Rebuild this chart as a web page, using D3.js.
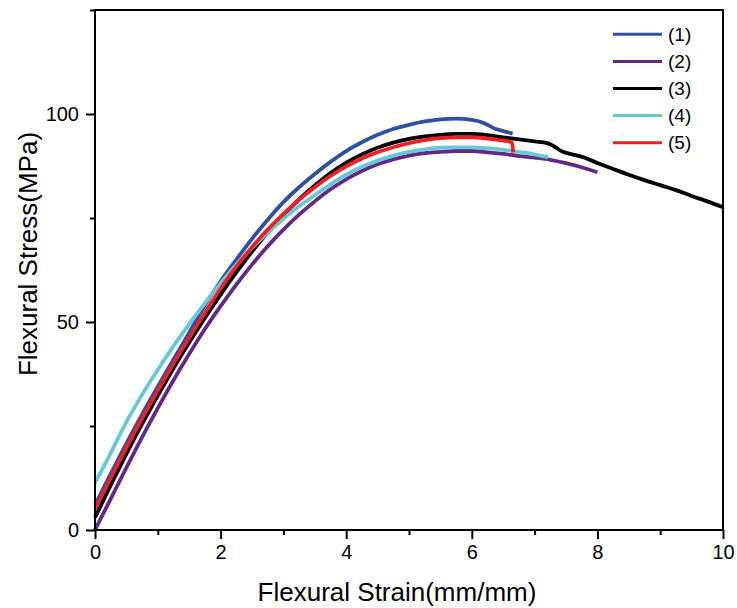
<!DOCTYPE html>
<html>
<head>
<meta charset="utf-8">
<script src="https://cdn.jsdelivr.net/npm/d3@7/dist/d3.min.js"></script>
<style>
  html, body { margin: 0; padding: 0; background: #fff; }
  svg { display: block; }
  text { font-family: "Liberation Sans", Arial, sans-serif; fill: #000; }
</style>
</head>
<body>
<svg id="chart" width="737" height="608"></svg>
<script>
// ---------- data ----------
const seriesNames = ["(1)", "(2)", "(3)", "(4)", "(5)"];
const seriesColors = ["#2f4fa3", "#612a87", "#000000", "#68c8d4", "#ee1f25"];

const strain1 = [0, 0.25, 0.5, 0.75, 1, 1.25, 1.5, 1.75, 2, 2.25, 2.5, 2.75, 3, 3.25, 3.5, 3.75, 4, 4.25, 4.5, 4.75, 5, 5.25, 5.5, 5.75, 6, 6.2, 6.35, 6.5, 6.65];
const stress1 = [6, 13.5, 20.8, 27.8, 34.5, 41, 47.4, 54, 59.8, 65, 70, 74.6, 78.8, 82.4, 85.6, 88.5, 91.1, 93.2, 95, 96.4, 97.4, 98.2, 98.7, 98.9, 98.6, 97.8, 96.6, 95.9, 95.3];

const strain2 = [0, 0.25, 0.5, 0.75, 1, 1.25, 1.5, 1.75, 2, 2.25, 2.5, 2.75, 3, 3.25, 3.5, 3.75, 4, 4.25, 4.5, 4.75, 5, 5.25, 5.5, 5.75, 6, 6.25, 6.5, 6.75, 7, 7.25, 7.5, 7.75, 8];
const stress2 = [0, 7.5, 15, 22.3, 29.3, 36, 42.3, 48.3, 53.8, 59, 63.8, 68.2, 72.2, 75.8, 79, 81.9, 84.3, 86.3, 87.9, 89.1, 90, 90.6, 90.9, 91.1, 91.1, 90.8, 90.4, 89.9, 89.5, 89, 88.2, 87.2, 86];

const strain3 = [0, 0.25, 0.5, 0.75, 1, 1.25, 1.5, 1.75, 2, 2.25, 2.5, 2.75, 3, 3.25, 3.5, 3.75, 4, 4.25, 4.5, 4.75, 5, 5.25, 5.5, 5.75, 6, 6.25, 6.5, 6.75, 7, 7.2, 7.3, 7.45, 7.6, 7.8, 8, 8.25, 8.5, 8.75, 9, 9.25, 9.5, 9.75, 10];
const stress3 = [3, 10.8, 18.3, 25.5, 32.3, 38.9, 45.1, 51, 56.6, 61.9, 66.9, 71.5, 75.7, 79.5, 82.8, 85.8, 88.3, 90.3, 91.9, 93.1, 94, 94.6, 95, 95.2, 95.2, 94.9, 94.4, 93.9, 93.4, 93, 92.3, 90.9, 90.3, 89.5, 88.2, 86.8, 85.4, 84.1, 82.9, 81.7, 80.3, 79, 77.6];

const strain4 = [0, 0.25, 0.5, 0.75, 1, 1.25, 1.5, 1.75, 2, 2.25, 2.5, 2.75, 3, 3.25, 3.5, 3.75, 4, 4.25, 4.5, 4.75, 5, 5.25, 5.5, 5.75, 6, 6.25, 6.5, 6.75, 7, 7.22];
const stress4 = [11.3, 18.5, 26, 32.5, 38.5, 44.2, 49.5, 54.5, 59.3, 63.8, 67.8, 71.4, 74.8, 77.8, 80.5, 83.1, 85.4, 87.3, 88.8, 90, 90.9, 91.5, 91.9, 92, 92, 91.8, 91.4, 90.9, 90.3, 89.6];

const strain5 = [0, 0.25, 0.5, 0.75, 1, 1.25, 1.5, 1.75, 2, 2.25, 2.5, 2.75, 3, 3.25, 3.5, 3.75, 4, 4.25, 4.5, 4.75, 5, 5.25, 5.5, 5.75, 6, 6.25, 6.5, 6.64, 6.66];
const stress5 = [5, 12.5, 19.8, 26.8, 33.5, 40, 46.2, 52.2, 58, 63.3, 68, 72.2, 76, 79.4, 82.4, 85.1, 87.4, 89.3, 90.8, 92, 93, 93.7, 94.2, 94.4, 94.4, 94.1, 93.6, 93.2, 90.8];

const xTickValues = [0, 2, 4, 6, 8, 10];
const xMinorTicks = [1, 3, 5, 7, 9];
const yTickValues = [0, 50, 100];
const yMinorTicks = [25, 75, 125];

const xTitle = "Flexural Strain(mm/mm)";
const yTitle = "Flexural Stress(MPa)";

// ---------- layout ----------
const svg = d3.select("#chart");
const plotLeft = 95, plotRight = 723, plotTop = 10, plotBottom = 530;

const x = d3.scaleLinear().domain([0, 10]).range([plotLeft, plotRight]);
const y = d3.scaleLinear().domain([0, 125]).range([plotBottom, plotTop]);

const strains = [strain1, strain2, strain3, strain4, strain5];
const stresses = [stress1, stress2, stress3, stress4, stress5];
const series = seriesNames.map((name, i) => ({
  name, color: seriesColors[i],
  values: strains[i].map((s, j) => ({ x: s, y: stresses[i][j] }))
}));

// curves
const line = d3.line().x(d => x(d.x)).y(d => y(d.y)).curve(d3.curveMonotoneX);
svg.append("g").selectAll("path").data(series).join("path")
  .attr("d", d => line(d.values))
  .attr("fill", "none")
  .attr("stroke", d => d.color)
  .attr("stroke-width", 3.8)
  .attr("stroke-linejoin", "round")
  .attr("stroke-linecap", "butt");

// axes
const fontSize = 20;
const xAxis = d3.axisBottom(x).tickValues(xTickValues).tickSize(9).tickPadding(6).tickFormat(d3.format("d"));
const gx = svg.append("g").attr("transform", `translate(0,${plotBottom})`).call(xAxis);
const xMinor = d3.axisBottom(x).tickValues(xMinorTicks).tickSize(5).tickFormat("");
const gxm = svg.append("g").attr("transform", `translate(0,${plotBottom})`).call(xMinor);

const yAxis = d3.axisLeft(y).tickValues(yTickValues).tickSize(9).tickPadding(7).tickFormat(d3.format("d"));
const gy = svg.append("g").attr("transform", `translate(${plotLeft},0)`).call(yAxis);
const yMinor = d3.axisLeft(y).tickValues(yMinorTicks).tickSize(5).tickFormat("");
const gym = svg.append("g").attr("transform", `translate(${plotLeft},0)`).call(yMinor);

[gx, gxm, gy, gym].forEach(g => {
  g.select(".domain").remove();
  g.selectAll(".tick line").attr("stroke", "#000").attr("stroke-width", 2);
  g.selectAll(".tick text")
    .style("font-family", "'Liberation Sans', Arial, sans-serif")
    .style("font-size", fontSize + "px").attr("fill", "#000");
});

// frame
svg.append("rect")
  .attr("x", plotLeft).attr("y", plotTop)
  .attr("width", plotRight - plotLeft).attr("height", plotBottom - plotTop)
  .attr("fill", "none").attr("stroke", "#000").attr("stroke-width", 2);

// titles
svg.append("text")
  .attr("x", 397).attr("y", 601)
  .attr("text-anchor", "middle")
  .style("font-size", "26px")
  .text(xTitle);

svg.append("text")
  .attr("transform", "translate(37,254) rotate(-90)")
  .attr("text-anchor", "middle")
  .style("font-size", "26px")
  .text(yTitle);

// legend
const legend = svg.append("g");
const legY0 = 34.3, legDy = 27.1;
series.forEach((s, i) => {
  const yy = legY0 + i * legDy;
  legend.append("line")
    .attr("x1", 613).attr("x2", 662)
    .attr("y1", yy).attr("y2", yy)
    .attr("stroke", s.color).attr("stroke-width", 3);
  legend.append("text")
    .attr("x", 668).attr("y", yy)
    .attr("dy", "0.35em")
    .style("font-size", "19px")
    .text(s.name);
});
</script>
</body>
</html>
